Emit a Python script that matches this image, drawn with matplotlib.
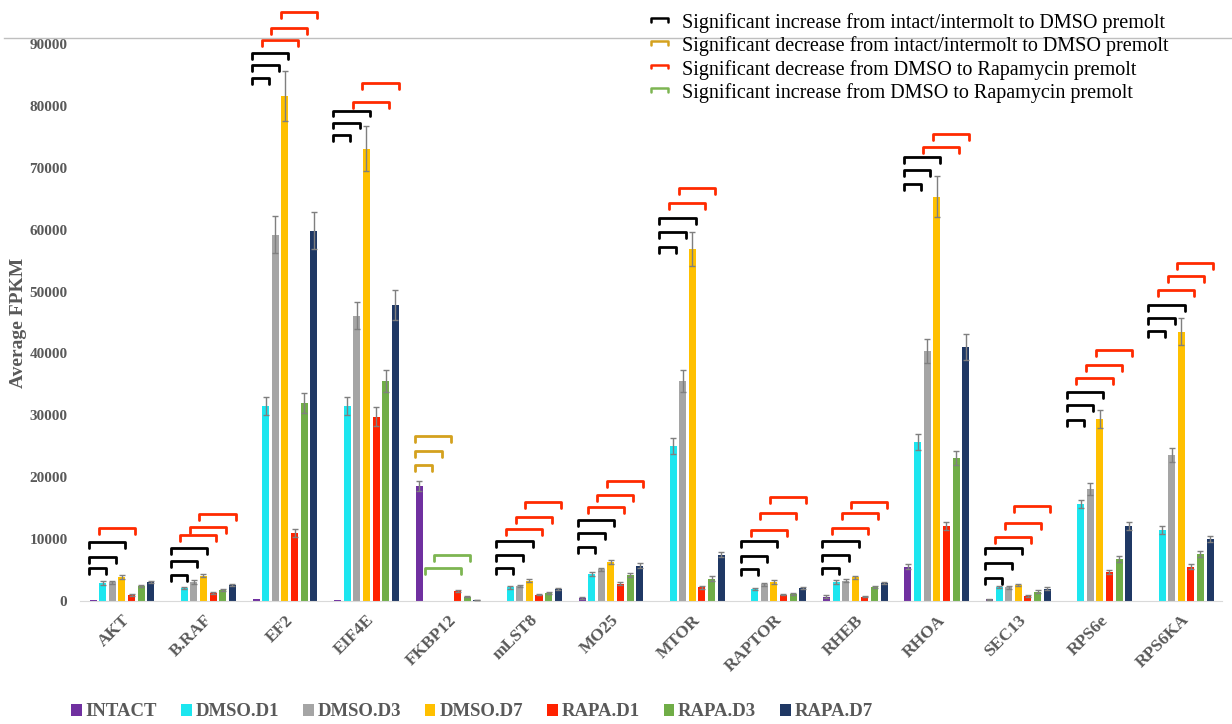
import numpy as np
import matplotlib
matplotlib.use("Agg")
import matplotlib.pyplot as plt
from matplotlib.lines import Line2D
from matplotlib.patches import Patch
from matplotlib.legend_handler import HandlerBase

plt.rcParams["font.family"] = ["Liberation Serif", "DejaVu Serif"]

# ---- datos ----
genes = ["AKT", "B.RAF", "EF2", "EIF4E", "FKBP12", "mLST8", "MO25", "MTOR",
         "RAPTOR", "RHEB", "RHOA", "SEC13", "RPS6e", "RPS6KA"]
conditions = ["INTACT", "DMSO.D1", "DMSO.D3", "DMSO.D7", "RAPA.D1", "RAPA.D3", "RAPA.D7"]

intact  = [100, 0, 400, 100, 18600, 0, 500, 0, 0, 700, 5500, 300, 0, 0]
dmso_d1 = [2900, 2100, 31500, 31500, 0, 2200, 4400, 25000, 1900, 3100, 25700, 2300, 15700, 11500]
dmso_d3 = [3000, 3100, 59200, 46100, 0, 2400, 5100, 35600, 2700, 3300, 40400, 2200, 18100, 23600]
dmso_d7 = [3900, 4100, 81600, 73100, 0, 3300, 6300, 56900, 3100, 3800, 65300, 2600, 29400, 43500]
rapa_d1 = [1000, 1300, 11000, 29800, 1600, 1000, 2800, 2200, 1000, 700, 12100, 800, 4700, 5500]
rapa_d3 = [2400, 1800, 32000, 35600, 700, 1300, 4200, 3600, 1100, 2300, 23100, 1500, 6800, 7600]
rapa_d7 = [3100, 2600, 59800, 47800, 150, 1900, 5700, 7500, 2100, 2900, 41000, 2000, 12100, 10000]

err_intact  = [0, 0, 0, 0, 800, 0, 200, 0, 0, 200, 400, 100, 0, 0]
err_dmso_d1 = [300, 200, 1500, 1500, 0, 200, 300, 1300, 200, 300, 1300, 200, 700, 600]
err_dmso_d3 = [300, 300, 3000, 2200, 0, 200, 300, 1800, 200, 300, 2000, 200, 900, 1200]
err_dmso_d7 = [300, 300, 4000, 3600, 0, 300, 400, 2800, 300, 300, 3300, 200, 1500, 2200]
err_rapa_d1 = [200, 200, 600, 1500, 200, 100, 200, 300, 100, 100, 700, 100, 300, 400]
err_rapa_d3 = [200, 200, 1600, 1800, 100, 200, 300, 400, 200, 200, 1200, 200, 500, 500]
err_rapa_d7 = [200, 200, 3000, 2400, 50, 200, 400, 400, 200, 200, 2100, 200, 600, 500]

colors = ["#7030A0", "#1CE6EF", "#A5A5A5", "#FFC000", "#FF2200", "#70AD47", "#1F3864"]

# corchetes de significancia: (gen, tipo, barra_inicio, barra_fin, altura)
brackets = [
    (0, "up", 0, 1, 5330), (0, "up", 0, 2, 7110), (0, "up", 0, 3, 9530), (0, "rapa_down", 1, 4, 11790),
    (1, "up", 0, 1, 4200), (1, "up", 0, 2, 6460), (1, "up", 0, 3, 8560),
    (1, "rapa_down", 1, 4, 10660), (1, "rapa_down", 2, 5, 11950), (1, "rapa_down", 3, 6, 14050),
    (2, "up", 0, 1, 84490), (2, "up", 0, 2, 86590), (2, "up", 0, 3, 88530),
    (2, "rapa_down", 1, 4, 90630), (2, "rapa_down", 2, 5, 92570), (2, "rapa_down", 3, 6, 95150),
    (3, "up", 0, 1, 75280), (3, "up", 0, 2, 77270), (3, "up", 0, 3, 79210),
    (3, "rapa_down", 2, 5, 80610), (3, "rapa_down", 3, 6, 83680),
    (4, "down", 0, 1, 21970), (4, "down", 0, 2, 24230), (4, "down", 0, 3, 26660),
    (4, "rapa_up", 1, 4, 5330), (4, "rapa_up", 2, 5, 7430),
    (5, "up", 0, 1, 5330), (5, "up", 0, 2, 7430), (5, "up", 0, 3, 9690),
    (5, "rapa_down", 1, 4, 11630), (5, "rapa_down", 2, 5, 13570), (5, "rapa_down", 3, 6, 15990),
    (6, "up", 0, 1, 8720), (6, "up", 0, 2, 10990), (6, "up", 0, 3, 13090),
    (6, "rapa_down", 1, 4, 15190), (6, "rapa_down", 2, 5, 17120), (6, "rapa_down", 3, 6, 19390),
    (7, "up", 0, 1, 57190), (7, "up", 0, 2, 59610), (7, "up", 0, 3, 61870),
    (7, "rapa_down", 1, 4, 64300), (7, "rapa_down", 2, 5, 66720),
    (8, "up", 0, 1, 5170), (8, "up", 0, 2, 7270), (8, "up", 0, 3, 9690),
    (8, "rapa_down", 1, 4, 11470), (8, "rapa_down", 2, 5, 14220), (8, "rapa_down", 3, 6, 16800),
    (9, "up", 0, 1, 5330), (9, "up", 0, 2, 7430), (9, "up", 0, 3, 9690),
    (9, "rapa_down", 1, 4, 11790), (9, "rapa_down", 2, 5, 14220), (9, "rapa_down", 3, 6, 15990),
    (10, "up", 0, 1, 67370), (10, "up", 0, 2, 69630), (10, "up", 0, 3, 71730),
    (10, "rapa_down", 2, 5, 73340), (10, "rapa_down", 3, 6, 75440),
    (11, "up", 0, 1, 3720), (11, "up", 0, 2, 6140), (11, "up", 0, 3, 8560),
    (11, "rapa_down", 1, 4, 10340), (11, "rapa_down", 2, 5, 12600), (11, "rapa_down", 3, 6, 15350),
    (12, "up", 0, 1, 29240), (12, "up", 0, 2, 31660), (12, "up", 0, 3, 33760),
    (12, "rapa_down", 1, 4, 36030), (12, "rapa_down", 2, 5, 38130), (12, "rapa_down", 3, 6, 40550),
    (13, "up", 0, 1, 43620), (13, "up", 0, 2, 45720), (13, "up", 0, 3, 47820),
    (13, "rapa_down", 1, 4, 50240), (13, "rapa_down", 2, 5, 52500), (13, "rapa_down", 3, 6, 54600),
]

bracket_colors = {"up": "#000000", "down": "#D4A11E", "rapa_down": "#FF2A00", "rapa_up": "#7DB552"}
bracket_labels = {
    "up": "Significant increase from intact/intermolt to DMSO premolt",
    "down": "Significant decrease from intact/intermolt to DMSO premolt",
    "rapa_down": "Significant decrease from DMSO to Rapamycin premolt",
    "rapa_up": "Significant increase from DMSO to Rapamycin premolt",
}


class BracketHandler(HandlerBase):
    """Dibuja un pequeño corchete como icono de la leyenda."""
    def create_artists(self, legend, orig_handle, xdescent, ydescent,
                       width, height, fontsize, trans):
        x0, x1 = -xdescent, -xdescent + width
        y_top = -ydescent + height * 0.72
        y_bot = -ydescent + height * 0.45
        line = Line2D([x0, x0, x1, x1], [y_bot, y_top, y_top, y_bot],
                      color=orig_handle.get_color(), linewidth=1.8,
                      solid_joinstyle="round", solid_capstyle="round",
                      transform=trans)
        return [line]


series = [intact, dmso_d1, dmso_d3, dmso_d7, rapa_d1, rapa_d3, rapa_d7]
errors = [err_intact, err_dmso_d1, err_dmso_d3, err_dmso_d7, err_rapa_d1, err_rapa_d3, err_rapa_d7]

fig = plt.figure(figsize=(12.32, 7.24), dpi=100)
ax = fig.add_axes([80 / 1232, 1 - 601 / 724, 1142 / 1232, 557 / 724])

x = np.arange(len(genes))
pitch = 0.118
width = 0.086
text_gray = "#595959"

for k, (vals, errs) in enumerate(zip(series, errors)):
    pos = x + (k - 3) * pitch
    ax.bar(pos, vals, width=width, color=colors[k], zorder=2)
    e = np.array(errs, dtype=float)
    mask = e > 0
    ax.errorbar(pos[mask], np.array(vals)[mask], yerr=e[mask], fmt="none",
                ecolor="#7F7F7F", elinewidth=1.0, capsize=2.5, capthick=1.0, zorder=3)

# corchetes
tick_len = 900
for g, kind, a, b, yv in brackets:
    xa = g + (a - 3) * pitch - 0.05
    xb = g + (b - 3) * pitch + 0.04
    ax.plot([xa, xa, xb, xb], [yv - tick_len, yv, yv, yv - tick_len],
            color=bracket_colors[kind], linewidth=2.0, solid_joinstyle="round",
            solid_capstyle="round", clip_on=False, zorder=4)

ax.set_xlim(-0.515, 13.5)
ax.set_ylim(0, 90000)
ax.set_yticks(np.arange(0, 90001, 10000))
ax.set_yticklabels([f"{v}" for v in range(0, 90001, 10000)],
                   fontsize=11, fontweight="bold", color=text_gray)
ax.set_xticks(x)
ax.set_xticklabels(genes, rotation=45, ha="right", rotation_mode="anchor",
                   fontsize=12.5, fontweight="bold", color=text_gray)
ax.tick_params(axis="both", length=0)
ax.tick_params(axis="y", pad=9)
ax.tick_params(axis="x", pad=8)
for side in ["top", "right", "left"]:
    ax.spines[side].set_visible(False)
ax.spines["bottom"].set_color("#D9D9D9")
ax.set_ylabel("Average FPKM", fontsize=14, fontweight="bold", color=text_gray)
ax.yaxis.set_label_coords(-0.0465, 0.5)

# línea gris superior
fig.add_artist(Line2D([0.003, 1.0], [1 - 37.5 / 724] * 2, color="#BFBFBF",
                      linewidth=1.0, transform=fig.transFigure))

# leyenda de condiciones (abajo)
cond_handles = [Patch(facecolor=c, edgecolor="none") for c in colors]
fig.legend(cond_handles, conditions, loc="center", ncol=7,
           bbox_to_anchor=(472 / 1232, 1 - 712 / 724), frameon=False,
           handlelength=0.55, handleheight=0.55, handletextpad=0.2,
           columnspacing=1.3, prop={"size": 13.5, "weight": "bold"},
           labelcolor=text_gray)

# leyenda de corchetes (arriba a la derecha)
br_handles = [Line2D([], [], color=bracket_colors[k]) for k in bracket_labels]
fig.legend(br_handles, list(bracket_labels.values()), loc="upper left",
           bbox_to_anchor=(637 / 1232, 1 + 1 / 724), frameon=False,
           handler_map={Line2D: BracketHandler()},
           handlelength=0.85, handletextpad=0.7, labelspacing=0.17,
           borderpad=0.2, prop={"size": 14.5})

fig.savefig("out.png", dpi=100)
